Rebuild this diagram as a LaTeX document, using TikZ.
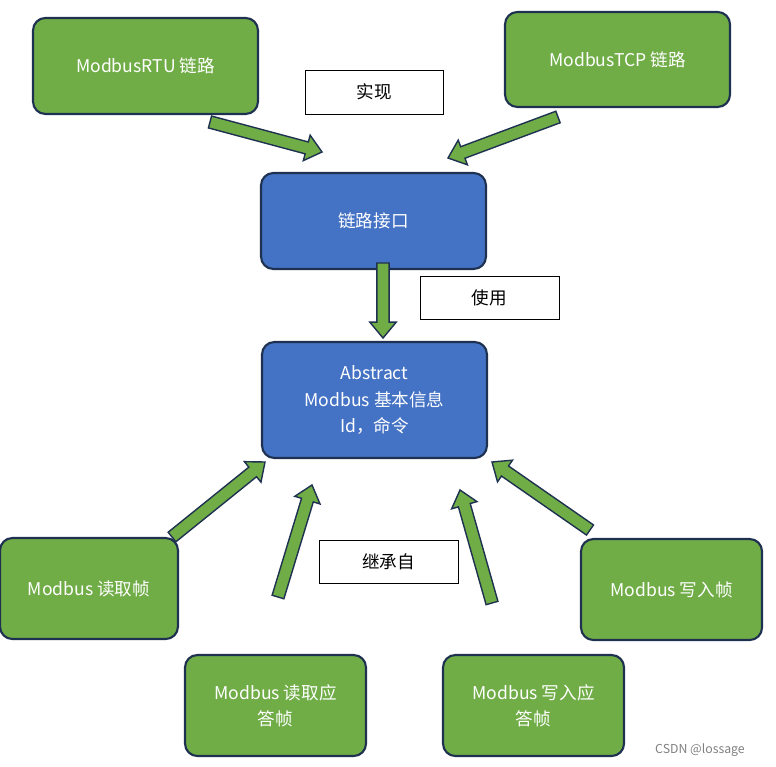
\documentclass[tikz,border=0pt]{standalone}
\usepackage{fontspec}
\setmainfont{Noto Sans CJK SC}
\usetikzlibrary{calc}
\definecolor{boxgreen}{HTML}{70AD47}
\definecolor{boxblue}{HTML}{4472C4}
\definecolor{boxline}{HTML}{1F3150}
\tikzset{
  box/.style={draw=boxline,line width=1.2pt,rounded corners=7pt,text=white,align=center,
    font=\fontsize{10}{15}\selectfont,inner sep=0pt},
  linkbox/.style={box,fill=boxgreen},
  corebox/.style={box,fill=boxblue},
  tag/.style={draw=black,line width=0.5pt,fill=white,font=\fontsize{10}{12}\selectfont,inner sep=0pt},
  blockarrow/.style={draw=boxline,fill=boxgreen,line width=0.8pt,line join=miter,
    to path={let \p1=(\tikztostart),\p2=(\tikztotarget),\n1={atan2(\y2-\y1,\x2-\x1)} in
      ($(\p1)+(\n1+90:3.5pt)$) -- ($(\p2)+(\n1+180:9pt)+(\n1+90:3.5pt)$)
      -- ($(\p2)+(\n1+180:9pt)+(\n1+90:7.5pt)$) -- (\p2)
      -- ($(\p2)+(\n1+180:9pt)+(\n1-90:7.5pt)$) -- ($(\p2)+(\n1+180:9pt)+(\n1-90:3.5pt)$)
      -- ($(\p1)+(\n1-90:3.5pt)$) -- cycle}}
}
\begin{document}
\begin{tikzpicture}[x=0.02cm,y=-0.02cm]
  \useasboundingbox (0,0) rectangle (776,766);
  % boxes
  \node[linkbox,minimum width=4.5cm,minimum height=1.92cm] (rtu) at (145.5,66) {ModbusRTU 链路};
  \node[linkbox,minimum width=4.5cm,minimum height=1.9cm] (tcp) at (617.5,59.5) {ModbusTCP 链路};
  \node[corebox,minimum width=4.5cm,minimum height=1.92cm] (link) at (373.5,221) {链路接口};
  \node[corebox,minimum width=4.5cm,minimum height=2.32cm] (base) at (374.5,400) {Abstract\\Modbus 基本信息\\Id，命令};
  \node[linkbox,minimum width=3.56cm,minimum height=2.02cm] (rd) at (89,588.5) {Modbus 读取帧};
  \node[linkbox,minimum width=3.62cm,minimum height=2.02cm] (wr) at (671.5,589.5) {Modbus 写入帧};
  \node[linkbox,minimum width=3.62cm,minimum height=2.02cm] (rdack) at (275.5,705.5) {Modbus 读取应\\答帧};
  \node[linkbox,minimum width=3.62cm,minimum height=2.02cm] (wrack) at (533.5,705.5) {Modbus 写入应\\答帧};
  % labels
  \node[tag,minimum width=2.76cm,minimum height=0.88cm] (impl) at (374,92) {实现};
  \node[tag,minimum width=2.78cm,minimum height=0.86cm] (use) at (489.5,297.5) {使用};
  \node[tag,minimum width=2.78cm,minimum height=0.86cm] (inh) at (388.5,561.5) {继承自};
  % arrow ends
  \coordinate (a1) at (210,122); \coordinate (b1) at (322,152);
  \coordinate (a2) at (558,117); \coordinate (b2) at (448,158);
  \coordinate (a3) at (383,263); \coordinate (b3) at (383,338);
  \coordinate (a4) at (172,537); \coordinate (b4) at (265,462);
  \coordinate (a5) at (278,597); \coordinate (b5) at (312,485);
  \coordinate (a6) at (492,603); \coordinate (b6) at (460,490);
  \coordinate (a7) at (590,530); \coordinate (b7) at (492,462);
  \foreach \i in {1,...,7}
    \draw[blockarrow] (a\i) to (b\i);
  \node[text=gray,font=\fontsize{7}{8}\selectfont] (mark) at (700,750) {CSDN @lossage};
\end{tikzpicture}
\end{document}
